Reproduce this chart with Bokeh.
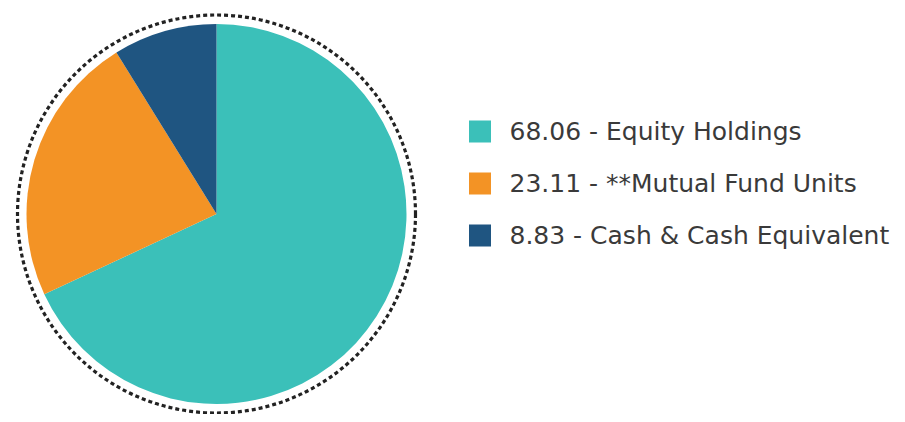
import numpy as np
from bokeh.plotting import figure
from bokeh.models import Range1d, ColumnDataSource
from bokeh.core.properties import value
from bokeh.embed import file_html
from bokeh.resources import INLINE

categories = ["Equity Holdings", "**Mutual Fund Units", "Cash & Cash Equivalent"]
values = [68.06, 23.11, 8.83]
colors = ["#3BC0B9", "#F39325", "#1F5581"]

W, H = 897, 414
p = figure(width=W, height=H, output_backend="svg", toolbar_location=None,
           x_range=Range1d(0, W), y_range=Range1d(422 - H, 422),
           min_border=0, outline_line_color=None)
p.axis.visible = False
p.grid.visible = False
p.background_fill_color = "white"

cx, cy, r = 216, 422 - 213.5, 190
vals = np.array(values)
frac = vals / vals.sum()
ends = np.pi / 2 - 2 * np.pi * np.cumsum(frac)
starts = np.concatenate([[np.pi / 2], ends[:-1]])
src = ColumnDataSource(dict(start=starts, end=ends, color=colors))
p.wedge(x=cx, y=cy, radius=r, start_angle="start", end_angle="end", direction="clock",
        fill_color="color", line_color=None, source=src)

p.circle(x=[cx], y=[cy], radius=199, fill_color=None, line_color="#222222",
         line_width=3.2, line_dash="4 3")

ys = [422 - 131, 422 - 183, 422 - 235]
labels = [f"{v:.2f} - {c}" for v, c in zip(values, categories)]
lsrc = ColumnDataSource(dict(y=ys, color=colors, label=labels))
p.rect(x=479.5, y="y", width=22, height=22, fill_color="color", line_color=None, source=lsrc)
p.text(x=509, y="y", text="label", source=lsrc, text_font=value("DejaVu Sans"),
       text_font_size="25px", text_baseline="middle", text_color="#3a3a3a")

open("out.html", "w").write(file_html(p, INLINE))
